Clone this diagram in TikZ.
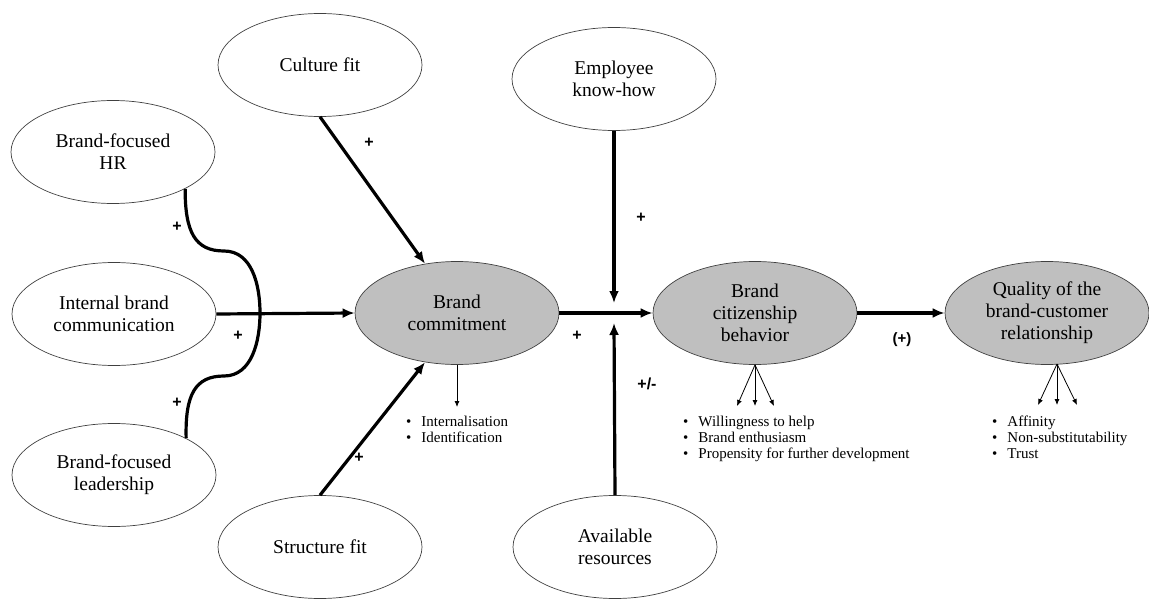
\documentclass[tikz,border=0pt]{standalone}
\usepackage{fontspec}
\setmainfont{Liberation Serif}
\newfontfamily\labfont{Liberation Sans}
\usetikzlibrary{shapes.geometric,arrows.meta}
\tikzset{
  oval/.style={ellipse, draw=black!75, line width=0.7pt, minimum width=204pt, minimum height=103pt, inner sep=0pt, align=center, font=\fontsize{19.5}{22}\selectfont},
  core/.style={oval, fill=black!25},
  thick arrow/.style={line width=3.2pt, -{Latex[length=12pt,width=10pt]}},
  thin arrow/.style={line width=0.8pt, -{Latex[length=6pt,width=5pt]}},
  sign/.style={font=\fontsize{16}{16}\labfont\bfseries\selectfont, inner sep=0pt},
  items/.style={align=left, anchor=north west, inner sep=0pt, font=\fontsize{15}{16}\selectfont}
}
\begin{document}
\begin{tikzpicture}[x=1pt,y=-1pt]
\useasboundingbox (0,0) rectangle (1149,599);
% nodes
\node[oval] (cult) at (320,65) {Culture fit};
\node[oval] (emp) at (614,79) {Employee\\know-how};
\node[oval] (hr) at (113,152) {Brand-focused\\HR};
\node[oval] (ibc) at (114,314) {Internal brand\\communication};
\node[oval] (lead) at (114,475) {Brand-focused\\leadership};
\node[oval] (struc) at (320,547) {Structure fit};
\node[oval] (res) at (615,547) {Available\\resources};
\node[core] (bc) at (457,313) {Brand\\commitment};
\node[core] (bcb) at (755,313) {Brand\\citizenship\\behavior};
\node[core] (qual) at (1047,313) {Quality of the\\brand-customer\\relationship};
% moderation points
\coordinate (mtop) at (614,303);
\coordinate (mbot) at (614,323);
% main arrows
\draw[thick arrow] (ibc.east) -- (bc.west);
\draw[thick arrow] (cult.south) -- (bc.123);
\draw[thick arrow] (struc.north) -- (bc.-123);
\draw[thick arrow] (bc.east) -- (bcb.west);
\draw[thick arrow] (emp.south) -- (mtop);
\draw[thick arrow] (res.north) -- (mbot);
\draw[thick arrow] (bcb.east) -- (qual.west);
% brace
\draw[line width=3.2pt] (hr.-27) .. controls (185,232) and (195,251) .. (224,251)
  .. controls (252,251) and (260,285) .. (260,313)
  .. controls (260,341) and (252,376) .. (224,376)
  .. controls (195,376) and (185,395) .. (lead.27);
% signs
\node[sign] (s1) at (369,143) {+};
\node[sign] (s2) at (177,227) {+};
\node[sign] (s3) at (238,336) {+};
\node[sign] (s4) at (177,403) {+};
\node[sign] (s5) at (359,458) {+};
\node[sign] (s6) at (577,336) {+};
\node[sign] (s7) at (641,218) {+};
\node[sign] (s8) at (647,384) {+/-};
\node[sign, font=\fontsize{15}{15}\labfont\bfseries\selectfont] (s9) at (902,340) {(+)};
% indicator arrows
\coordinate (bct) at (457,407);
\draw[thin arrow] (bc.south) -- (bct);
\coordinate (c1) at (737,406);
\coordinate (c2) at (755,406);
\coordinate (c3) at (774,406);
\draw[thin arrow] (bcb.south) -- (c1);
\draw[thin arrow] (bcb.south) -- (c2);
\draw[thin arrow] (bcb.south) -- (c3);
\coordinate (q1) at (1038,405);
\coordinate (q2) at (1057,405);
\coordinate (q3) at (1077,405);
\coordinate (qa) at (1057,364);
\draw[thin arrow] (qa) -- (q1);
\draw[thin arrow] (qa) -- (q2);
\draw[thin arrow] (qa) -- (q3);
% item lists
\node[items] (l1) at (406,416) {\textbullet\hspace{10pt}Internalisation\\\textbullet\hspace{10pt}Identification};
\node[items] (l2) at (683,416) {\textbullet\hspace{10pt}Willingness to help\\\textbullet\hspace{10pt}Brand enthusiasm\\\textbullet\hspace{10pt}Propensity for further development};
\node[items] (l3) at (992,416) {\textbullet\hspace{10pt}Affinity\\\textbullet\hspace{10pt}Non-substitutability\\\textbullet\hspace{10pt}Trust};
\end{tikzpicture}
\end{document}
